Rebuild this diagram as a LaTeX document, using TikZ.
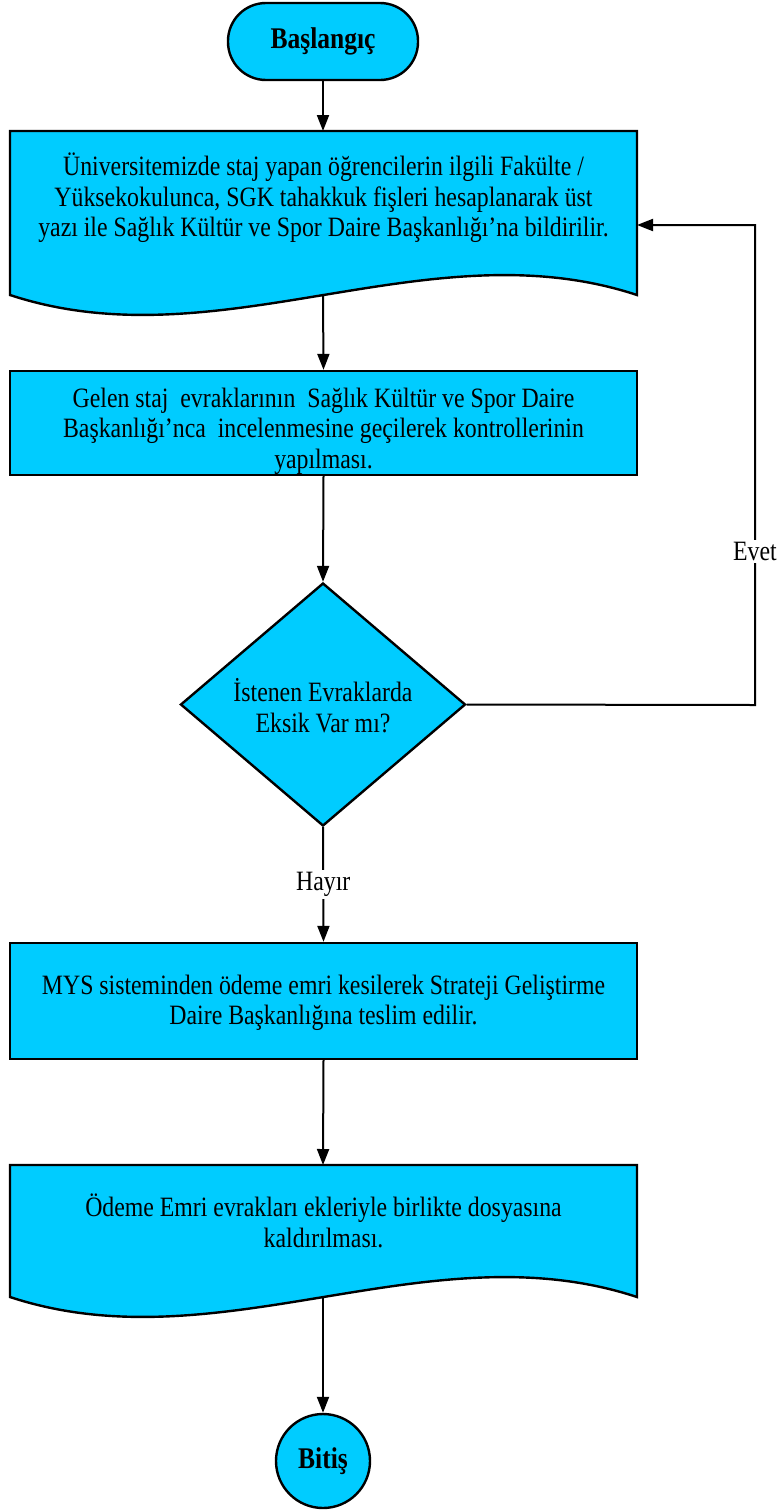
\documentclass[tikz,border=0pt]{standalone}
\usepackage{fontspec}
\setmainfont{Liberation Serif}[FakeStretch=0.85]
\usetikzlibrary{shapes.geometric,arrows.meta}
\definecolor{boxcyan}{RGB}{0,204,255}
\tikzset{
  shapeline/.style={draw=black, line width=2.4pt, fill=boxcyan},
  arr/.style={line width=2pt, -{Triangle[length=16pt,width=12pt]}},
  txt/.style={align=center, font=\fontsize{28}{30.5}\selectfont, inner sep=0pt},
  boldtxt/.style={font=\bfseries\fontsize{30}{30}\selectfont},
  rectbox/.style={shapeline, rectangle, minimum width=627pt, inner sep=0pt},
  termbox/.style={shapeline, rectangle, rounded corners=38pt, minimum width=190pt, minimum height=77pt, boldtxt},
  endcircle/.style={shapeline, circle, minimum size=94pt, inner sep=0pt, boldtxt},
  decision/.style={shapeline, diamond, minimum width=285pt, minimum height=243pt, inner sep=0pt},
  lbl/.style={fill=white, inner sep=2pt, font=\fontsize{28}{30}\selectfont}
}
\begin{document}
\begin{tikzpicture}[x=1pt,y=-1pt]
\useasboundingbox (0,0) rectangle (779,1510);

% start
\node[termbox] (start) at (323,41.5) {Başlangıç};

% document 1
\coordinate (d1top) at (323,131);
\coordinate (d1bot) at (323,296);
\coordinate (d1right) at (637,225);
\draw[shapeline] (10,131) -- (637,131) -- (637,295)
   .. controls (428,226) and (219,364) .. (10,295) -- cycle;
\node[txt] (doc1) at (323.5,198) {Üniversitemizde staj yapan öğrencilerin ilgili Fakülte /\\ Yüksekokulunca, SGK tahakkuk fişleri hesaplanarak üst\\ yazı ile Sağlık Kültür ve Spor Daire Başkanlığı’na bildirilir.};

% box 2
\node[rectbox, minimum height=104pt] (box2) at (323.5,423) {};
\node[txt] (box2t) at (323.5,431) {Gelen staj\ \ evraklarının\ \ Sağlık Kültür ve Spor Daire\\ Başkanlığı’nca\ \ incelenmesine geçilerek kontrollerinin\\ yapılması.};

% decision
\node[decision] (dec) at (323,704.5) {};
\node[txt] (dect) at (323,705.5) {İstenen Evraklarda\\ Eksik Var mı?};

% box 3
\node[rectbox, minimum height=116pt] (box3) at (323.5,1001) {};
\node[txt] (box3t) at (323.5,1003) {MYS sisteminden ödeme emri kesilerek Strateji Geliştirme\\ Daire Başkanlığına teslim edilir.};

% document 2
\coordinate (d2top) at (323,1165);
\coordinate (d2bot) at (323,1298);
\draw[shapeline] (10,1165) -- (637,1165) -- (637,1297)
   .. controls (428,1228) and (219,1366) .. (10,1297) -- cycle;
\node[txt] (doc2) at (323.5,1221) {Ödeme Emri evrakları ekleriyle birlikte dosyasına\\ kaldırılması.};

% end
\node[endcircle] (end) at (323,1461) {Bitiş};

% connectors
\draw[arr] (start.south) -- (d1top);
\draw[arr] (d1bot) -- (box2.north);
\draw[arr] (box2.south) -- (dec.north);
\coordinate (loopc) at (755,705);
\draw[arr] (dec.east) -- (loopc) -- node[lbl, pos=0.32] (evet) {Evet} (755,225) -- (d1right);
\draw[arr] (dec.south) -- node[lbl] (hayir) {Hayır} (box3.north);
\draw[arr] (box3.south) -- (d2top);
\draw[arr] (d2bot) -- (end.north);
\end{tikzpicture}
\end{document}
